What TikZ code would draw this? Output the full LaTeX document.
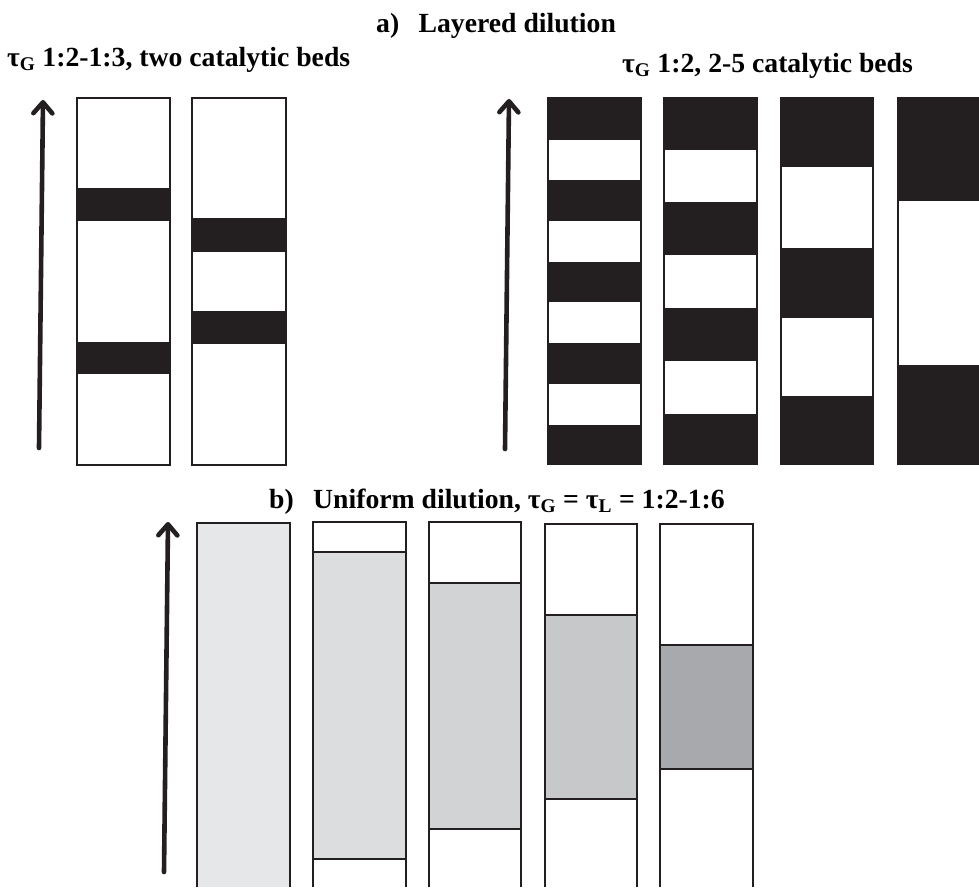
\documentclass[tikz,border=0pt]{standalone}
\usepackage{fontspec}
\setmainfont{Liberation Serif}
\usetikzlibrary{arrows.meta}

\definecolor{ink}{HTML}{231F20}
\definecolor{dilA}{HTML}{E6E7E8}
\definecolor{dilB}{HTML}{DCDDDE}
\definecolor{dilC}{HTML}{D1D3D4}
\definecolor{dilD}{HTML}{C7C8CA}
\definecolor{dilE}{HTML}{A7A9AC}

\begin{document}
\begin{tikzpicture}[x=1pt,y=-1pt,
	lbl/.style={anchor=base west,inner sep=0pt,font=\bfseries\fontsize{27.7}{28}\selectfont},
	flow/.style={draw=ink,line width=4.6pt,line cap=round,line join=round,
		-{Straight Barb[length=11pt,width=19pt,line cap=round,line join=round]}},
	bed/.style={draw=ink,line width=1.2pt}]
	\useasboundingbox[fill=white] (0,0) rectangle (979,887);

	\node[lbl] (titleA) at (376,32) {a)\hspace{0.45em} Layered dilution};
	\node[lbl] (twobeds) at (7,66) {τ\textsubscript{G} 1:2-1:3, two catalytic beds};
	\node[lbl] (fivebeds) at (622,72) {τ\textsubscript{G} 1:2, 2-5 catalytic beds};
	\node[lbl] (titleB) at (269,508) {b)\hspace{0.45em} Uniform dilution, τ\textsubscript{G} = τ\textsubscript{L} = 1:2-1:6};

	% flow direction
	\coordinate (upA0) at (39,448); \coordinate (upA1) at (43,100);
	\coordinate (upB0) at (505,449); \coordinate (upB1) at (509,99);
	\coordinate (upC0) at (164,872); \coordinate (upC1) at (168,522);
	\draw[flow] (upA0) -- (upA1);
	\draw[flow] (upB0) -- (upB1);
	\draw[flow] (upC0) -- (upC1);

	% two catalytic beds
	\fill[ink] (77,188) rectangle (170,221);
	\fill[ink] (77,342) rectangle (170,374);
	\draw[bed] (77,98) rectangle (170,465);
	\fill[ink] (192,218) rectangle (286,252);
	\fill[ink] (192,311) rectangle (286,344);
	\draw[bed] (192,98) rectangle (286,465);

	% 2-5 catalytic beds
	\fill[ink] (547,97) rectangle (642,465);
	\foreach \ya/\yb in {140/180,221/262,302/343,384/425}
		\fill[white] (549,\ya) rectangle (640,\yb);
	\fill[ink] (663,97) rectangle (758,465);
	\foreach \ya/\yb in {150/202,255/308,361/414}
		\fill[white] (665,\ya) rectangle (756,\yb);
	\fill[ink] (780,97) rectangle (874,465);
	\foreach \ya/\yb in {167/248,318/396}
		\fill[white] (782,\ya) rectangle (872,\yb);
	\fill[ink] (897,97) rectangle (979,465);
	\fill[white] (899,201) rectangle (979,365);

	% uniform dilution
	\fill[dilA] (197,523) rectangle (290,887);
	\draw[bed] (197,887) -- (197,523) -- (290,523) -- (290,887);
	\foreach \xl/\xr/\yt/\ya/\yb/\c in {313/406/522/552/859/dilB,429/521/522/583/829/dilC,
		545/637/524/615/799/dilD,660/753/524/645/769/dilE}{
		\filldraw[bed,fill=\c] (\xl,\ya) rectangle (\xr,\yb);
		\draw[bed] (\xl,887) -- (\xl,\yt) -- (\xr,\yt) -- (\xr,887);
	}
\end{tikzpicture}
\end{document}
